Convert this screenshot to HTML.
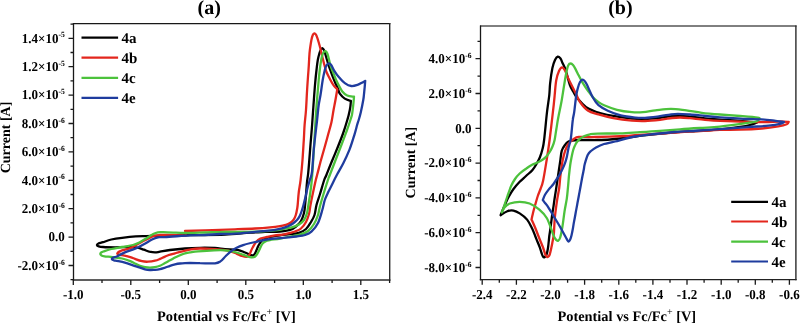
<!DOCTYPE html><html><head><meta charset="utf-8"><style>html,body{margin:0;padding:0;background:#fff;}svg{display:block;will-change:transform;}text{font-family:"Liberation Serif",serif;font-weight:bold;fill:#000;text-rendering:geometricPrecision;}</style></head><body>
<svg width="800" height="324" viewBox="0 0 800 324">
<rect width="800" height="324" fill="#fff"/>
<path d="M72.85 23.60H390.40" stroke="#181818" stroke-width="1.3" fill="none"/>
<path d="M72.85 279.95H390.40" stroke="#2a2a2a" stroke-width="1.35" fill="none"/>
<path d="M73.50 23.00V280.60" stroke="#181818" stroke-width="1.3" fill="none"/>
<path d="M389.70 23.00V280.60" stroke="#2a2a2a" stroke-width="1.4" fill="none"/>
<text transform="translate(73.3 299.2) scale(1 1.050)" font-size="13.0" text-anchor="middle" >-1.0</text>
<text transform="translate(130.8 299.2) scale(1 1.050)" font-size="13.0" text-anchor="middle" >-0.5</text>
<text transform="translate(188.3 299.2) scale(1 1.050)" font-size="13.0" text-anchor="middle" >0.0</text>
<text transform="translate(245.8 299.2) scale(1 1.050)" font-size="13.0" text-anchor="middle" >0.5</text>
<text transform="translate(303.3 299.2) scale(1 1.050)" font-size="13.0" text-anchor="middle" >1.0</text>
<text transform="translate(360.8 299.2) scale(1 1.050)" font-size="13.0" text-anchor="middle" >1.5</text>
<text transform="translate(64.8 42.6) scale(1 1.040)" font-size="13" text-anchor="end">1.4×10<tspan font-size="7.6" dy="-5.0">-5</tspan></text>
<text transform="translate(64.8 71.0) scale(1 1.040)" font-size="13" text-anchor="end">1.2×10<tspan font-size="7.6" dy="-5.0">-5</tspan></text>
<text transform="translate(64.8 99.4) scale(1 1.040)" font-size="13" text-anchor="end">1.0×10<tspan font-size="7.6" dy="-5.0">-5</tspan></text>
<text transform="translate(64.8 127.8) scale(1 1.040)" font-size="13" text-anchor="end">8.0×10<tspan font-size="7.6" dy="-5.0">-6</tspan></text>
<text transform="translate(64.8 156.2) scale(1 1.040)" font-size="13" text-anchor="end">6.0×10<tspan font-size="7.6" dy="-5.0">-6</tspan></text>
<text transform="translate(64.8 184.6) scale(1 1.040)" font-size="13" text-anchor="end">4.0×10<tspan font-size="7.6" dy="-5.0">-6</tspan></text>
<text transform="translate(64.8 213.0) scale(1 1.040)" font-size="13" text-anchor="end">2.0×10<tspan font-size="7.6" dy="-5.0">-6</tspan></text>
<text transform="translate(64.8 241.4) scale(1 1.040)" font-size="13.0" text-anchor="end" >0.0</text>
<text transform="translate(64.8 269.8) scale(1 1.040)" font-size="13" text-anchor="end">-2.0×10<tspan font-size="7.6" dy="-5.0">-6</tspan></text>
<path d="M480.00 26.00H796.60" stroke="#000" stroke-width="1.0" fill="none"/>
<path d="M479.80 279.70H796.60" stroke="#222" stroke-width="1.3" fill="none"/>
<path d="M480.50 25.50V280.35" stroke="#181818" stroke-width="1.3" fill="none"/>
<path d="M795.90 25.50V280.35" stroke="#2a2a2a" stroke-width="1.4" fill="none"/>
<text transform="translate(482.2 299.2) scale(1 1.050)" font-size="13.0" text-anchor="middle" >-2.4</text>
<text transform="translate(516.4 299.2) scale(1 1.050)" font-size="13.0" text-anchor="middle" >-2.2</text>
<text transform="translate(550.5 299.2) scale(1 1.050)" font-size="13.0" text-anchor="middle" >-2.0</text>
<text transform="translate(584.6 299.2) scale(1 1.050)" font-size="13.0" text-anchor="middle" >-1.8</text>
<text transform="translate(618.8 299.2) scale(1 1.050)" font-size="13.0" text-anchor="middle" >-1.6</text>
<text transform="translate(652.9 299.2) scale(1 1.050)" font-size="13.0" text-anchor="middle" >-1.4</text>
<text transform="translate(687.0 299.2) scale(1 1.050)" font-size="13.0" text-anchor="middle" >-1.2</text>
<text transform="translate(721.2 299.2) scale(1 1.050)" font-size="13.0" text-anchor="middle" >-1.0</text>
<text transform="translate(755.3 299.2) scale(1 1.050)" font-size="13.0" text-anchor="middle" >-0.8</text>
<text transform="translate(789.4 299.2) scale(1 1.050)" font-size="13.0" text-anchor="middle" >-0.6</text>
<text transform="translate(471.6 271.8) scale(1 1.040)" font-size="13" text-anchor="end">-8.0×10<tspan font-size="7.6" dy="-5.0">-6</tspan></text>
<text transform="translate(471.6 237.0) scale(1 1.040)" font-size="13" text-anchor="end">-6.0×10<tspan font-size="7.6" dy="-5.0">-6</tspan></text>
<text transform="translate(471.6 202.2) scale(1 1.040)" font-size="13" text-anchor="end">-4.0×10<tspan font-size="7.6" dy="-5.0">-6</tspan></text>
<text transform="translate(471.6 167.4) scale(1 1.040)" font-size="13" text-anchor="end">-2.0×10<tspan font-size="7.6" dy="-5.0">-6</tspan></text>
<text transform="translate(471.6 132.6) scale(1 1.040)" font-size="13.0" text-anchor="end" >0.0</text>
<text transform="translate(471.6 97.8) scale(1 1.040)" font-size="13" text-anchor="end">2.0×10<tspan font-size="7.6" dy="-5.0">-6</tspan></text>
<text transform="translate(471.6 63.0) scale(1 1.040)" font-size="13" text-anchor="end">4.0×10<tspan font-size="7.6" dy="-5.0">-6</tspan></text>
<path d="M73.3 279.9V284.9 M102.0 279.9V282.9 M130.8 279.9V284.9 M159.6 279.9V282.9 M188.3 279.9V284.9 M217.1 279.9V282.9 M245.8 279.9V284.9 M274.6 279.9V282.9 M303.3 279.9V284.9 M332.1 279.9V282.9 M360.8 279.9V284.9 M389.6 279.9V282.9 M73.5 279.7H70.5 M73.5 265.5H68.5 M73.5 251.3H70.5 M73.5 237.1H68.5 M73.5 222.9H70.5 M73.5 208.7H68.5 M73.5 194.5H70.5 M73.5 180.3H68.5 M73.5 166.1H70.5 M73.5 151.9H68.5 M73.5 137.7H70.5 M73.5 123.5H68.5 M73.5 109.3H70.5 M73.5 95.1H68.5 M73.5 80.9H70.5 M73.5 66.7H68.5 M73.5 52.5H70.5 M73.5 38.3H68.5 M73.5 24.1H70.5 M482.2 279.7V284.7 M499.3 279.7V282.7 M516.4 279.7V284.7 M533.4 279.7V282.7 M550.5 279.7V284.7 M567.6 279.7V282.7 M584.6 279.7V284.7 M601.7 279.7V282.7 M618.8 279.7V284.7 M635.8 279.7V282.7 M652.9 279.7V284.7 M670.0 279.7V282.7 M687.0 279.7V284.7 M704.1 279.7V282.7 M721.2 279.7V284.7 M738.2 279.7V282.7 M755.3 279.7V284.7 M772.3 279.7V282.7 M789.4 279.7V284.7 M480.5 267.5H475.5 M480.5 250.1H477.5 M480.5 232.7H475.5 M480.5 215.3H477.5 M480.5 197.9H475.5 M480.5 180.5H477.5 M480.5 163.1H475.5 M480.5 145.7H477.5 M480.5 128.3H475.5 M480.5 110.9H477.5 M480.5 93.5H475.5 M480.5 76.1H477.5 M480.5 58.7H475.5 M480.5 41.3H477.5" stroke="#1a1a1a" stroke-width="1.3" fill="none"/>
<text x="157" y="320.8" font-size="14.4" text-anchor="start">Potential vs Fc/Fc<tspan font-size="10" font-weight="normal" dy="-6.2">+</tspan><tspan dy="6.2"> [V]</tspan></text>
<text x="557.4" y="320.9" font-size="14.4" text-anchor="start">Potential vs Fc/Fc<tspan font-size="10" font-weight="normal" dy="-6.2">+</tspan><tspan dy="6.2"> [V]</tspan></text>
<text transform="translate(9.8,173.3) rotate(-90)" font-size="14" text-anchor="start">Current [A]</text>
<text transform="translate(415.4,198.4) rotate(-90)" font-size="14" text-anchor="start">Current [A]</text>
<text x="209.2" y="13.9" font-size="20.0" text-anchor="middle" >(a)</text>
<text x="620.4" y="13.9" font-size="20.0" text-anchor="middle" >(b)</text>
<path d="M350.9 101.0 C350.8 102.0 350.6 104.9 350.3 107.2 C350.0 109.5 349.3 112.5 348.8 114.6 C348.3 116.7 348.2 116.9 347.3 120.0 C346.4 123.1 344.7 128.7 343.2 133.0 C341.7 137.3 340.1 141.3 338.2 146.0 C336.3 150.7 334.0 156.2 332.0 161.0 C330.0 165.8 327.7 171.8 326.4 175.0 C325.1 178.2 325.3 176.8 324.2 180.0 C323.1 183.2 321.3 189.8 320.0 194.0 C318.7 198.2 317.4 201.5 316.5 205.0 C315.6 208.5 315.4 212.2 314.5 215.0 C313.6 217.8 312.4 219.7 311.0 222.0 C309.6 224.3 308.0 227.2 306.0 229.0 C304.0 230.8 301.7 231.9 299.0 232.8 C296.3 233.7 293.2 233.8 290.0 234.2 C286.8 234.6 283.6 234.8 280.0 235.3 C276.4 235.8 271.2 236.4 268.2 237.3 C265.2 238.2 263.6 239.1 262.0 240.5 C260.4 241.9 259.6 243.5 258.5 245.5 C257.4 247.5 256.4 250.8 255.5 252.5 C254.6 254.2 254.1 255.0 253.2 255.4 C252.3 255.8 251.4 255.2 250.0 254.7 C248.6 254.2 247.1 253.3 245.0 252.5 C242.9 251.7 240.8 250.5 237.5 249.9 C234.2 249.3 228.8 249.5 225.0 249.2 C221.2 248.9 219.2 248.2 215.0 248.0 C210.8 247.8 205.0 247.7 200.0 247.8 C195.0 247.9 190.0 248.1 185.0 248.5 C180.0 248.9 174.2 249.5 170.0 250.0 C165.8 250.5 162.5 251.3 160.0 251.7 C157.5 252.1 156.8 252.4 155.0 252.4 C153.2 252.4 151.2 252.1 149.3 251.7 C147.4 251.2 145.8 250.4 143.8 249.7 C141.8 249.0 139.6 248.1 137.1 247.7 C134.6 247.2 132.5 247.1 128.9 247.0 C125.3 246.9 119.7 247.3 115.4 247.3 C111.1 247.3 105.9 247.2 103.1 247.0 C100.3 246.8 99.7 246.6 98.7 246.3 C97.7 246.0 96.9 245.5 96.9 245.0 C96.9 244.5 97.5 244.0 98.5 243.5 C99.5 243.0 101.0 242.9 103.1 242.2 C105.2 241.5 108.1 240.2 111.3 239.5 C114.5 238.8 118.0 238.3 122.1 237.8 C126.2 237.3 131.6 236.7 135.7 236.4 C139.8 236.1 142.5 236.2 146.6 236.1 C150.7 236.0 152.8 235.8 160.0 235.6 C167.2 235.4 179.2 235.4 190.0 235.2 C200.8 235.0 215.0 235.0 225.0 234.6 C235.0 234.2 243.3 233.0 250.0 232.6 C256.7 232.2 260.0 232.1 265.0 231.9 C270.0 231.7 275.8 231.8 280.0 231.5 C284.2 231.2 287.3 230.7 290.0 229.9 C292.7 229.1 294.2 228.0 296.0 226.5 C297.8 225.0 299.7 223.2 301.0 221.0 C302.3 218.8 303.3 215.7 304.0 213.0 C304.7 210.3 304.8 208.0 305.1 205.0 C305.4 202.0 305.7 198.8 306.0 195.0 C306.3 191.2 306.6 185.8 307.0 182.0 C307.4 178.2 307.8 177.8 308.3 172.0 C308.9 166.2 309.7 154.8 310.3 147.0 C310.9 139.2 311.6 132.0 312.1 125.0 C312.6 118.0 313.0 111.7 313.5 105.0 C314.0 98.3 314.5 90.8 315.0 85.0 C315.5 79.2 316.0 74.2 316.5 70.0 C317.0 65.8 317.3 62.8 317.8 60.0 C318.3 57.2 319.0 54.8 319.5 53.0 C320.0 51.2 320.5 50.3 321.0 49.5 C321.5 48.7 322.0 48.0 322.5 48.2 C323.0 48.4 323.6 49.2 324.2 50.5 C324.8 51.8 325.2 53.6 325.9 56.0 C326.6 58.4 327.6 62.0 328.5 64.9 C329.4 67.8 330.6 70.7 331.6 73.5 C332.6 76.3 333.7 79.0 334.7 81.5 C335.7 84.0 336.9 86.3 337.8 88.3 C338.7 90.3 338.6 91.9 339.8 93.6 C341.0 95.3 343.0 97.4 344.8 98.6 C346.6 99.8 349.9 100.6 350.9 101.0" fill="none" stroke="#000000" stroke-width="2.3" stroke-linejoin="round" stroke-linecap="round"/>
<path d="M185.0 231.0 C188.3 230.9 196.7 230.7 205.0 230.4 C213.3 230.1 226.7 229.6 235.0 229.3 C243.3 229.0 249.2 228.8 255.0 228.5 C260.8 228.2 265.8 227.8 270.0 227.4 C274.2 227.0 277.3 226.6 280.0 226.2 C282.7 225.8 284.3 225.3 286.0 224.8 C287.7 224.3 288.7 223.8 290.0 223.0 C291.3 222.2 292.6 221.0 293.6 219.7 C294.6 218.4 295.2 216.9 295.8 215.0 C296.4 213.1 296.9 210.3 297.3 208.0 C297.7 205.7 297.8 203.7 298.0 201.0 C298.2 198.3 298.4 195.5 298.8 192.0 C299.2 188.5 300.0 185.3 300.6 180.0 C301.2 174.7 302.0 166.7 302.5 160.0 C303.0 153.3 303.4 145.8 303.8 140.0 C304.2 134.2 304.2 130.0 304.6 125.0 C305.0 120.0 305.6 115.8 306.0 110.0 C306.4 104.2 306.7 96.7 307.1 90.0 C307.5 83.3 308.1 75.3 308.5 70.0 C308.9 64.7 309.0 61.4 309.2 58.0 C309.4 54.6 309.5 52.7 309.9 49.7 C310.3 46.7 310.9 42.4 311.4 39.9 C311.9 37.4 312.3 36.0 312.8 34.9 C313.3 33.8 313.8 33.5 314.3 33.4 C314.8 33.3 315.3 33.6 315.8 34.4 C316.3 35.1 316.8 36.5 317.3 37.9 C317.8 39.3 318.3 41.1 318.8 42.8 C319.3 44.4 319.7 45.9 320.2 47.8 C320.7 49.7 321.1 52.0 321.6 54.0 C322.1 56.0 322.5 57.7 323.0 59.5 C323.5 61.3 323.8 62.9 324.4 65.0 C325.0 67.1 325.6 69.8 326.6 72.3 C327.6 74.8 329.1 77.4 330.3 79.7 C331.5 82.0 332.8 84.3 334.0 85.9 C335.2 87.5 336.8 88.7 337.3 89.3 C337.0 91.0 336.1 96.4 335.5 99.8 C334.9 103.2 334.3 106.0 333.6 109.7 C332.9 113.4 332.4 117.8 331.5 122.0 C330.6 126.2 329.1 130.8 328.0 135.0 C326.9 139.2 325.9 142.8 324.7 147.0 C323.5 151.2 322.3 155.3 321.0 160.0 C319.7 164.7 318.0 171.7 317.1 175.0 C316.2 178.3 316.6 176.7 315.8 180.0 C315.0 183.3 313.4 190.8 312.5 195.0 C311.6 199.2 311.1 201.8 310.5 205.0 C309.9 208.2 309.8 211.2 309.0 214.0 C308.2 216.8 307.3 219.6 306.0 222.0 C304.7 224.4 302.8 226.9 301.0 228.5 C299.2 230.1 296.8 230.8 295.0 231.5 C293.2 232.2 292.0 232.4 290.0 232.9 C288.0 233.4 285.5 234.2 283.0 234.6 C280.5 235.0 277.7 235.0 275.0 235.4 C272.3 235.8 269.3 236.5 266.9 237.0 C264.5 237.5 262.2 237.8 260.4 238.6 C258.6 239.4 257.4 240.4 256.1 241.9 C254.8 243.4 253.7 245.7 252.8 247.3 C251.9 248.9 251.3 250.3 250.8 251.5 C250.3 252.7 250.1 253.5 249.6 254.3 C249.1 255.1 248.5 255.8 248.0 256.2 C247.5 256.6 247.4 256.8 246.4 256.8 C245.4 256.8 243.7 256.5 242.0 256.0 C240.3 255.5 238.3 254.3 236.5 253.6 C234.7 252.9 233.1 252.2 231.2 251.6 C229.3 251.0 227.7 250.6 225.0 250.2 C222.3 249.8 219.2 249.5 215.0 249.2 C210.8 248.9 204.2 248.4 200.0 248.5 C195.8 248.6 192.5 249.2 190.0 249.6 C187.5 250.0 186.7 250.3 185.0 250.7 C183.3 251.1 181.7 251.5 180.0 251.9 C178.3 252.3 176.7 252.8 175.0 253.3 C173.3 253.8 171.7 254.1 170.0 254.7 C168.3 255.2 166.7 255.9 165.0 256.6 C163.3 257.3 161.7 258.2 160.0 258.9 C158.3 259.6 157.0 260.2 155.0 260.7 C153.0 261.2 150.2 261.6 148.0 261.7 C145.8 261.8 144.2 261.7 142.0 261.2 C139.8 260.7 136.9 259.6 135.0 258.9 C133.1 258.2 132.5 257.8 130.3 257.2 C128.2 256.6 124.0 255.5 122.1 255.1 C120.2 254.7 119.8 254.8 119.0 254.6 C118.2 254.3 117.4 254.0 117.3 253.6 C117.2 253.2 117.8 252.6 118.3 252.2 C118.8 251.8 119.9 251.4 120.5 251.1 C121.1 250.8 120.5 250.9 122.1 250.4 C123.7 249.9 127.4 249.3 130.3 248.1 C133.2 246.8 137.1 244.3 139.8 242.9 C142.5 241.5 144.3 240.6 146.6 239.5 C148.8 238.4 151.1 236.8 153.3 236.1 C155.5 235.3 157.6 235.2 160.0 235.0 C162.4 234.8 165.0 234.9 167.5 234.9 C170.0 234.9 172.5 235.1 175.0 235.2 C177.5 235.3 180.7 235.4 182.5 235.5 C184.3 235.6 185.4 235.5 186.0 235.5" fill="none" stroke="#e3261d" stroke-width="2.3" stroke-linejoin="round" stroke-linecap="round"/>
<path d="M354.0 96.7 C353.9 97.8 353.7 100.5 353.4 103.5 C353.1 106.5 352.5 111.8 352.0 114.6 C351.5 117.3 351.2 117.4 350.4 120.0 C349.6 122.6 348.6 125.7 347.0 130.0 C345.4 134.3 343.9 138.5 341.0 146.0 C338.1 153.5 332.0 169.3 329.8 175.0 C327.6 180.7 329.5 175.0 327.9 180.0 C326.3 185.0 321.9 199.2 320.3 205.0 C318.7 210.8 319.1 211.8 318.0 215.0 C316.9 218.2 315.7 221.3 314.0 224.0 C312.3 226.7 310.3 229.2 308.0 231.0 C305.7 232.8 303.0 233.6 300.0 234.5 C297.0 235.4 293.3 235.8 290.0 236.5 C286.7 237.2 283.3 237.9 280.0 238.5 C276.7 239.1 272.2 239.6 270.0 240.0 C267.8 240.4 267.9 240.2 266.7 240.8 C265.4 241.4 263.9 241.7 262.5 243.6 C261.1 245.5 259.6 249.8 258.3 252.0 C257.0 254.2 256.3 255.9 254.9 256.8 C253.5 257.7 252.0 257.6 250.0 257.2 C248.0 256.8 245.6 255.6 243.0 254.7 C240.4 253.8 237.7 252.7 234.7 252.0 C231.7 251.3 228.4 250.6 225.0 250.3 C221.6 250.0 218.5 250.1 214.0 250.3 C209.5 250.5 202.0 251.0 198.0 251.3 C194.0 251.6 192.2 252.0 190.0 252.3 C187.8 252.6 186.7 252.8 185.0 253.3 C183.3 253.8 181.7 254.5 180.0 255.2 C178.3 255.9 176.7 256.6 175.0 257.5 C173.3 258.4 171.7 259.4 170.0 260.3 C168.3 261.2 166.7 262.2 165.0 263.1 C163.3 264.0 161.7 265.1 160.0 265.8 C158.3 266.5 156.7 266.9 155.0 267.2 C153.3 267.5 151.7 267.7 150.0 267.7 C148.3 267.7 146.7 267.5 145.0 267.2 C143.3 266.9 141.7 266.4 140.0 265.8 C138.3 265.2 136.6 264.3 135.0 263.5 C133.4 262.7 132.5 262.0 130.3 261.2 C128.2 260.4 125.0 259.2 122.1 258.5 C119.1 257.8 115.5 257.6 112.6 257.2 C109.7 256.8 106.3 256.6 104.5 256.3 C102.7 256.0 102.2 255.8 101.5 255.4 C100.8 255.0 100.3 254.3 100.3 253.8 C100.3 253.3 100.8 252.8 101.5 252.3 C102.2 251.9 102.9 251.7 104.5 251.1 C106.1 250.5 108.4 249.7 111.3 249.0 C114.2 248.3 118.5 247.7 122.1 247.0 C125.7 246.3 130.1 245.8 133.0 245.0 C135.9 244.2 137.5 243.3 139.8 242.2 C142.1 241.1 144.6 239.4 146.6 238.2 C148.6 237.0 150.1 235.8 152.0 234.8 C153.9 233.8 155.2 232.7 157.8 232.3 C160.4 231.9 162.1 232.2 167.5 232.3 C172.9 232.4 183.8 233.0 190.0 233.0 C196.2 233.0 199.2 232.7 205.0 232.5 C210.8 232.3 219.2 231.9 225.0 231.8 C230.8 231.7 233.8 232.1 240.0 232.0 C246.2 231.9 256.7 231.7 262.5 231.4 C268.3 231.1 271.8 230.8 275.0 230.4 C278.2 230.1 279.8 229.7 282.0 229.3 C284.2 228.9 286.0 228.6 288.0 228.2 C290.0 227.8 292.2 227.2 294.0 226.6 C295.8 226.0 297.3 225.6 299.0 224.5 C300.7 223.4 302.7 221.9 304.0 220.0 C305.3 218.1 306.3 215.5 307.0 213.0 C307.7 210.5 307.9 208.0 308.4 205.0 C308.9 202.0 309.4 199.2 310.0 195.0 C310.6 190.8 311.3 185.8 311.8 180.0 C312.3 174.2 312.6 169.2 313.2 160.0 C313.8 150.8 314.7 135.0 315.3 125.0 C315.9 115.0 316.4 107.5 317.0 100.0 C317.6 92.5 318.2 85.3 318.7 80.0 C319.2 74.7 319.5 71.8 320.0 68.0 C320.5 64.2 321.2 59.6 321.8 57.0 C322.4 54.4 322.9 53.5 323.5 52.5 C324.1 51.5 324.9 51.0 325.5 51.2 C326.1 51.4 326.7 52.0 327.3 53.5 C327.9 55.0 328.6 58.1 329.1 60.0 C329.6 61.9 329.5 62.4 330.3 64.9 C331.1 67.4 332.8 71.7 334.0 74.8 C335.2 77.9 336.4 80.6 337.8 83.4 C339.2 86.2 340.7 89.5 342.3 91.5 C343.9 93.5 345.2 94.6 347.2 95.5 C349.1 96.4 352.9 96.5 354.0 96.7" fill="none" stroke="#4cc23c" stroke-width="2.3" stroke-linejoin="round" stroke-linecap="round"/>
<path d="M365.2 80.9 C365.1 81.9 364.9 84.8 364.7 87.1 C364.5 89.4 364.1 92.9 363.9 95.0 C363.7 97.1 363.8 96.9 363.3 99.8 C362.8 102.7 361.6 108.8 360.8 112.2 C360.0 115.6 359.3 117.9 358.7 120.0 C358.1 122.1 357.8 122.5 357.1 125.0 C356.4 127.5 355.7 130.7 354.4 134.8 C353.1 138.9 351.4 144.9 349.5 149.6 C347.6 154.3 345.4 159.1 343.3 163.2 C341.2 167.3 339.1 170.8 337.2 174.3 C335.3 177.8 333.6 181.3 332.2 184.2 C330.8 187.1 329.7 189.0 328.5 191.6 C327.3 194.2 325.8 196.9 324.8 200.0 C323.8 203.1 323.4 206.2 322.3 210.0 C321.2 213.8 319.8 219.4 318.0 223.0 C316.2 226.6 313.6 229.7 311.4 231.7 C309.2 233.7 307.5 234.2 305.0 235.0 C302.5 235.8 299.9 236.0 296.3 236.5 C292.7 237.0 288.1 237.3 283.4 237.8 C278.7 238.3 272.4 238.7 268.2 239.3 C264.0 239.9 261.1 240.8 258.2 241.4 C255.3 242.0 253.2 242.4 250.7 243.0 C248.2 243.6 245.4 244.3 243.1 245.1 C240.8 245.9 238.6 246.8 236.6 247.8 C234.6 248.8 233.0 249.7 231.2 251.1 C229.4 252.5 227.6 254.3 225.8 256.0 C224.0 257.7 222.2 260.2 220.4 261.4 C218.6 262.6 218.4 263.0 215.0 263.3 C211.6 263.6 204.2 263.2 200.0 263.2 C195.8 263.1 192.5 263.0 190.0 263.0 C187.5 263.0 186.7 263.0 185.0 263.1 C183.3 263.2 181.7 263.3 180.0 263.5 C178.3 263.7 176.7 264.0 175.0 264.4 C173.3 264.8 171.7 265.2 170.0 265.8 C168.3 266.4 166.7 267.1 165.0 267.7 C163.3 268.2 161.7 268.8 160.0 269.1 C158.3 269.5 156.7 269.7 155.0 269.8 C153.3 269.9 151.7 270.1 150.0 270.0 C148.3 269.9 146.7 269.7 145.0 269.3 C143.3 268.9 141.8 268.3 140.0 267.7 C138.2 267.1 136.8 266.6 134.3 265.8 C131.8 265.0 128.1 263.5 124.9 262.6 C121.8 261.7 117.5 261.1 115.4 260.6 C113.4 260.1 113.2 260.2 112.6 259.8 C112.0 259.4 111.8 258.8 112.0 258.4 C112.2 258.0 113.0 257.7 113.8 257.4 C114.6 257.1 114.8 257.3 116.7 256.5 C118.6 255.7 121.7 253.8 124.9 252.4 C128.1 251.1 132.5 249.8 135.7 248.4 C138.8 247.1 141.1 245.8 143.8 244.3 C146.5 242.8 149.6 240.7 152.0 239.5 C154.4 238.3 155.8 237.7 158.0 237.3 C160.2 236.9 159.7 237.4 165.0 237.1 C170.3 236.8 183.3 235.7 190.0 235.3 C196.7 235.0 200.0 235.2 205.0 235.0 C210.0 234.8 215.0 234.2 220.0 234.0 C225.0 233.8 230.0 233.9 235.0 233.6 C240.0 233.3 245.4 232.8 250.0 232.4 C254.6 232.0 258.3 231.5 262.5 231.1 C266.7 230.7 271.8 230.3 275.0 229.8 C278.2 229.3 279.8 228.9 282.0 228.3 C284.2 227.7 286.2 227.0 288.0 226.2 C289.8 225.4 291.5 224.5 293.0 223.5 C294.5 222.5 295.8 221.3 297.0 220.0 C298.2 218.7 299.2 217.2 300.0 215.5 C300.8 213.8 301.4 211.8 302.0 210.0 C302.6 208.2 302.9 207.2 303.5 205.0 C304.1 202.8 304.8 199.8 305.5 197.0 C306.2 194.2 306.8 190.8 307.5 188.0 C308.2 185.2 309.1 182.7 309.8 180.0 C310.6 177.3 311.3 177.5 312.0 172.0 C312.7 166.5 313.1 155.7 314.0 147.0 C314.9 138.3 316.3 127.0 317.1 120.0 C317.9 113.0 318.1 109.2 318.7 105.0 C319.3 100.8 319.8 99.2 320.5 95.0 C321.2 90.8 322.0 84.2 322.7 80.0 C323.4 75.8 324.2 72.5 324.8 70.0 C325.4 67.5 325.8 66.4 326.5 65.3 C327.2 64.2 328.1 63.5 328.9 63.4 C329.6 63.3 330.1 63.6 331.0 64.8 C331.9 66.0 332.7 68.2 334.0 70.3 C335.3 72.4 337.1 75.1 339.0 77.3 C340.9 79.5 343.1 82.0 345.2 83.4 C347.2 84.9 349.2 85.8 351.3 86.0 C353.4 86.2 355.6 85.5 357.5 84.9 C359.4 84.3 361.1 83.1 362.4 82.4 C363.7 81.7 364.7 81.2 365.2 80.9" fill="none" stroke="#1f3c9e" stroke-width="2.3" stroke-linejoin="round" stroke-linecap="round"/>
<path d="M757.0 122.5 C755.8 122.9 752.8 124.3 750.0 125.0 C747.2 125.7 745.0 126.1 740.0 126.8 C735.0 127.5 726.7 128.6 720.0 129.3 C713.3 130.0 707.5 130.3 700.0 130.8 C692.5 131.3 682.5 131.7 675.0 132.3 C667.5 132.9 661.7 133.5 655.0 134.2 C648.3 134.9 640.8 135.8 635.0 136.5 C629.2 137.2 624.2 138.0 620.0 138.5 C615.8 139.0 613.8 139.2 610.0 139.5 C606.2 139.8 602.4 139.9 597.5 140.0 C592.6 140.1 584.8 139.9 580.5 140.0 C576.2 140.1 574.0 140.2 572.0 140.5 C570.0 140.8 569.7 140.8 568.6 141.5 C567.5 142.2 566.3 143.1 565.2 144.6 C564.1 146.1 562.6 148.0 561.8 150.6 C561.0 153.2 560.8 157.1 560.4 160.0 C560.0 162.9 559.6 165.4 559.2 168.0 C558.8 170.6 558.5 172.9 558.1 175.5 C557.7 178.1 557.3 180.9 556.9 183.5 C556.5 186.1 556.2 188.4 555.8 190.9 C555.4 193.4 555.0 195.9 554.6 198.5 C554.2 201.1 553.9 203.8 553.5 206.4 C553.1 209.0 552.7 211.3 552.3 214.0 C551.9 216.7 551.6 219.7 551.2 222.4 C550.9 225.1 550.5 227.7 550.2 230.0 C549.9 232.3 549.7 233.0 549.3 236.0 C548.9 239.0 548.5 244.9 548.0 248.0 C547.5 251.1 547.1 252.8 546.6 254.3 C546.1 255.8 545.4 256.6 544.8 257.0 C544.2 257.4 543.6 257.4 543.0 256.6 C542.4 255.9 541.9 253.9 541.4 252.5 C540.9 251.1 540.6 249.8 540.0 248.0 C539.4 246.2 538.4 244.0 537.6 242.0 C536.8 240.0 536.1 238.3 535.2 236.0 C534.3 233.7 533.4 230.9 532.0 228.2 C530.6 225.5 529.1 222.1 527.1 219.6 C525.1 217.1 522.0 214.9 519.7 213.4 C517.4 211.9 515.6 211.0 513.5 210.6 C511.4 210.2 509.4 210.4 507.3 211.2 C505.2 212.0 501.7 214.5 500.6 215.2 C501.2 213.8 502.7 210.0 504.0 207.0 C505.3 204.0 507.0 200.0 508.6 197.0 C510.2 194.0 511.6 191.5 513.5 189.0 C515.4 186.5 517.6 184.0 519.7 181.8 C521.8 179.6 523.9 178.0 526.0 176.0 C528.1 174.0 530.8 172.0 532.5 170.0 C534.2 168.0 535.3 166.1 536.5 164.0 C537.7 161.9 538.8 160.0 539.8 157.5 C540.8 155.0 541.8 151.9 542.5 149.0 C543.2 146.1 543.4 146.1 544.1 140.0 C544.9 133.9 546.1 119.7 547.0 112.2 C547.9 104.7 548.8 99.8 549.3 95.0 C549.8 90.2 549.6 88.1 550.1 83.6 C550.6 79.1 551.6 72.0 552.4 68.1 C553.2 64.2 554.1 61.9 555.0 60.0 C555.9 58.1 556.9 56.9 557.8 56.6 C558.7 56.4 559.7 57.5 560.5 58.5 C561.3 59.5 561.6 60.8 562.4 62.7 C563.2 64.6 564.2 66.0 565.5 69.7 C566.8 73.4 568.6 81.3 569.9 85.0 C571.2 88.7 572.2 89.7 573.5 92.0 C574.8 94.3 575.5 96.1 577.6 98.6 C579.7 101.1 583.3 105.0 586.1 107.1 C588.9 109.2 592.3 110.3 594.6 111.3 C596.9 112.3 596.9 112.2 600.0 113.0 C603.1 113.8 608.0 115.0 613.3 115.9 C618.6 116.8 626.6 118.1 631.9 118.6 C637.2 119.1 640.3 119.1 645.0 119.0 C649.7 118.9 655.5 118.3 660.0 117.8 C664.5 117.3 668.7 116.5 672.0 116.2 C675.3 115.9 677.0 115.7 680.0 115.8 C683.0 115.9 685.8 116.2 690.0 116.6 C694.2 117.0 700.0 117.8 705.0 118.3 C710.0 118.8 714.2 119.1 720.0 119.6 C725.8 120.0 733.8 120.5 740.0 121.0 C746.2 121.5 754.2 122.2 757.0 122.5" fill="none" stroke="#000000" stroke-width="2.3" stroke-linejoin="round" stroke-linecap="round"/>
<path d="M788.7 121.9 C788.4 122.3 788.4 123.5 786.7 124.3 C785.0 125.0 782.5 125.7 778.3 126.4 C774.1 127.1 768.1 128.0 761.7 128.5 C755.3 129.0 747.0 129.4 740.0 129.6 C733.0 129.8 726.7 129.7 720.0 129.9 C713.3 130.1 707.5 130.6 700.0 131.0 C692.5 131.4 682.5 132.0 675.0 132.5 C667.5 133.0 661.7 133.6 655.0 134.0 C648.3 134.4 640.0 134.9 635.0 135.2 C630.0 135.5 631.7 135.7 625.0 136.0 C618.3 136.3 602.7 136.8 595.0 137.0 C587.3 137.2 582.3 136.7 578.8 137.0 C575.2 137.3 575.4 137.9 573.7 139.0 C572.0 140.1 570.0 141.9 568.6 143.8 C567.2 145.7 566.2 147.8 565.2 150.6 C564.2 153.4 563.4 156.7 562.6 160.8 C561.8 164.9 561.1 170.5 560.5 175.0 C559.9 179.5 559.8 183.7 559.2 188.0 C558.6 192.3 557.7 195.8 557.0 200.8 C556.3 205.8 555.3 212.8 554.8 218.0 C554.3 223.2 554.2 228.7 554.0 232.0 C553.8 235.3 553.6 235.8 553.3 237.6 C553.0 239.4 552.6 241.3 552.3 243.0 C552.0 244.7 551.7 246.1 551.3 248.0 C550.9 249.9 550.2 253.1 549.7 254.5 C549.2 255.9 548.8 256.2 548.3 256.6 C547.8 257.0 547.5 257.2 547.0 256.9 C546.5 256.5 545.9 256.0 545.3 254.5 C544.7 253.0 544.0 250.1 543.2 248.0 C542.5 245.9 541.6 244.0 540.8 242.0 C540.0 240.0 539.1 237.8 538.4 236.0 C537.7 234.2 537.2 232.8 536.5 231.0 C535.8 229.2 534.8 226.9 534.0 225.0 C533.2 223.1 531.9 220.4 531.5 219.5 C531.8 218.4 532.5 215.0 533.0 213.0 C533.5 211.0 533.7 210.1 534.5 207.3 C535.3 204.5 536.8 199.1 537.8 196.0 C538.8 192.9 539.6 191.6 540.5 189.0 C541.4 186.4 542.0 185.8 543.1 180.7 C544.2 175.6 545.8 165.3 546.9 158.5 C548.0 151.7 548.6 147.7 549.6 140.0 C550.6 132.3 552.0 119.7 552.9 112.2 C553.8 104.7 554.2 100.3 554.7 95.0 C555.2 89.7 555.5 84.5 556.2 80.5 C556.9 76.5 558.0 73.2 559.0 71.0 C560.0 68.8 561.1 67.5 562.1 67.4 C563.1 67.3 564.0 68.8 565.0 70.5 C566.0 72.2 566.6 74.7 567.8 77.4 C569.0 80.1 571.0 83.9 572.4 86.7 C573.8 89.5 575.0 91.9 576.3 94.4 C577.6 97.0 578.1 99.3 580.0 102.0 C581.9 104.7 584.7 108.4 587.8 110.5 C590.9 112.6 594.2 113.1 598.5 114.4 C602.8 115.7 607.7 117.1 613.3 118.1 C618.9 119.1 626.6 120.1 631.9 120.6 C637.2 121.1 640.3 121.1 645.0 121.0 C649.7 120.9 655.5 120.3 660.0 119.8 C664.5 119.3 668.7 118.4 672.0 118.0 C675.3 117.6 677.0 117.5 680.0 117.5 C683.0 117.5 685.8 117.8 690.0 118.2 C694.2 118.6 700.0 119.4 705.0 119.8 C710.0 120.2 710.5 120.4 720.0 120.8 C729.5 121.2 752.0 122.1 761.7 122.2 C771.4 122.3 773.8 121.5 778.3 121.5 C782.8 121.5 787.0 121.8 788.7 121.9" fill="none" stroke="#e3261d" stroke-width="2.3" stroke-linejoin="round" stroke-linecap="round"/>
<path d="M759.6 118.8 C759.0 119.2 758.1 120.8 756.1 121.5 C754.1 122.2 753.8 122.1 747.8 122.9 C741.8 123.8 728.0 125.8 720.0 126.6 C712.0 127.4 706.7 127.5 700.0 128.0 C693.3 128.4 686.7 128.8 680.0 129.3 C673.3 129.8 666.7 130.3 660.0 130.8 C653.3 131.3 646.7 131.7 640.0 132.1 C633.3 132.5 627.1 133.1 620.0 133.3 C612.9 133.6 602.5 133.4 597.5 133.6 C592.5 133.8 592.2 133.9 590.0 134.3 C587.8 134.7 586.1 135.3 584.5 136.0 C582.9 136.7 581.5 137.6 580.3 138.5 C579.1 139.4 578.3 140.3 577.5 141.3 C576.7 142.3 576.0 143.2 575.3 144.7 C574.6 146.1 573.8 147.9 573.2 150.0 C572.6 152.1 572.1 154.6 571.6 157.1 C571.1 159.6 570.6 162.1 570.2 165.0 C569.8 167.9 569.5 170.7 569.1 174.4 C568.7 178.1 568.4 183.0 568.0 187.0 C567.6 191.0 567.4 194.5 566.8 198.6 C566.2 202.7 565.2 206.9 564.5 211.6 C563.8 216.3 563.1 222.4 562.4 226.7 C561.7 231.0 560.9 235.2 560.2 237.5 C559.5 239.8 558.8 240.3 558.1 240.7 C557.5 241.1 556.9 240.5 556.3 240.0 C555.7 239.5 555.1 238.6 554.5 237.5 C553.9 236.4 554.0 236.4 552.7 233.2 C551.4 230.0 549.1 222.2 546.9 218.3 C544.7 214.4 542.3 212.2 539.4 209.7 C536.5 207.2 532.9 204.8 529.6 203.5 C526.3 202.2 523.0 201.8 519.7 201.8 C516.4 201.8 512.3 202.6 509.8 203.5 C507.3 204.4 505.8 206.0 504.5 207.5 C503.2 209.0 502.2 211.7 501.8 212.5 C502.2 211.2 503.6 207.8 504.5 205.0 C505.4 202.2 506.4 199.2 507.5 196.0 C508.6 192.8 509.9 188.8 511.1 186.0 C512.4 183.2 513.6 181.1 515.0 179.0 C516.4 176.9 517.9 175.2 519.7 173.5 C521.5 171.8 523.9 170.1 526.0 168.7 C528.1 167.2 530.1 165.9 532.1 164.8 C534.1 163.7 536.1 163.2 538.0 162.3 C539.9 161.4 541.7 160.4 543.2 159.3 C544.7 158.2 545.9 157.0 547.0 155.7 C548.1 154.4 549.1 153.0 550.0 151.5 C550.9 150.0 551.7 148.4 552.5 146.5 C553.3 144.6 554.0 142.8 554.6 140.0 C555.2 137.2 555.7 133.0 556.3 129.5 C556.9 126.0 557.4 122.2 558.0 119.0 C558.6 115.8 559.1 113.3 559.7 110.5 C560.3 107.7 560.8 105.2 561.4 102.0 C562.0 98.8 562.7 94.2 563.2 91.0 C563.7 87.8 564.0 86.0 564.5 83.0 C565.0 80.0 565.7 75.8 566.3 72.8 C566.9 69.8 567.5 66.8 568.3 65.2 C569.0 63.7 570.0 63.5 570.8 63.5 C571.6 63.5 572.2 64.1 573.0 65.0 C573.8 65.9 574.5 67.2 575.4 68.9 C576.3 70.6 577.6 73.3 578.5 75.1 C579.4 76.9 580.2 78.4 581.0 79.8 C581.8 81.2 582.1 81.8 583.2 83.6 C584.3 85.4 586.1 88.2 587.8 90.5 C589.5 92.8 591.4 95.6 593.2 97.5 C595.0 99.4 596.8 100.8 598.6 102.1 C600.4 103.4 601.0 103.9 604.1 105.2 C607.2 106.5 612.4 108.6 617.0 109.8 C621.6 111.0 627.6 111.8 631.9 112.2 C636.2 112.6 639.1 112.5 643.0 112.2 C646.9 111.9 650.8 111.0 655.4 110.4 C660.0 109.9 665.8 108.9 670.9 108.9 C676.0 108.9 681.1 109.8 686.3 110.4 C691.4 111.1 696.2 112.1 701.8 112.8 C707.4 113.5 713.6 114.0 720.0 114.5 C726.4 115.0 733.8 115.5 740.0 116.0 C746.2 116.5 754.2 117.1 757.5 117.6 C760.8 118.1 759.2 118.6 759.6 118.8" fill="none" stroke="#4cc23c" stroke-width="2.3" stroke-linejoin="round" stroke-linecap="round"/>
<path d="M783.9 122.0 C783.4 122.3 783.6 123.0 781.1 123.6 C778.6 124.2 774.2 125.1 768.6 125.7 C763.0 126.3 755.9 126.5 747.8 127.1 C739.7 127.7 728.0 128.5 720.0 129.1 C712.0 129.7 707.5 130.0 700.0 130.5 C692.5 131.0 682.5 131.4 675.0 132.0 C667.5 132.6 661.7 133.2 655.0 134.0 C648.3 134.8 641.7 135.2 635.0 136.5 C628.3 137.8 620.2 140.2 615.0 141.5 C609.8 142.8 607.2 143.0 604.0 144.0 C600.8 145.0 598.2 146.3 596.0 147.5 C593.8 148.7 592.4 149.8 591.0 151.0 C589.6 152.2 588.8 152.8 587.7 155.0 C586.7 157.2 585.4 161.7 584.7 164.2 C584.0 166.7 584.2 167.6 583.7 170.0 C583.2 172.4 582.5 175.6 582.0 178.5 C581.5 181.4 580.9 184.4 580.4 187.3 C579.9 190.2 579.3 193.1 578.8 196.0 C578.3 198.9 577.7 201.7 577.2 204.6 C576.7 207.5 576.1 210.3 575.6 213.2 C575.1 216.1 574.5 219.3 574.0 221.9 C573.5 224.5 573.2 226.8 572.8 229.0 C572.4 231.2 572.0 233.2 571.6 235.0 C571.2 236.8 570.7 238.4 570.2 239.5 C569.7 240.6 569.1 241.6 568.5 241.5 C567.9 241.4 567.5 240.4 566.8 239.2 C566.0 237.9 565.0 235.8 564.0 234.0 C563.0 232.2 562.0 230.3 561.0 228.5 C560.0 226.7 558.9 224.8 557.8 223.0 C556.7 221.2 555.6 219.4 554.5 217.6 C553.4 215.8 552.3 213.8 551.2 212.0 C550.1 210.2 549.0 208.3 548.0 206.8 C547.0 205.3 545.9 204.1 545.0 203.0 C544.1 201.9 543.2 200.5 542.8 200.0 C543.2 199.1 544.0 196.6 545.0 194.8 C546.0 193.0 547.4 191.2 548.8 189.4 C550.2 187.6 552.2 185.7 553.5 184.0 C554.8 182.3 555.5 180.9 556.5 179.3 C557.5 177.8 558.6 176.5 559.6 174.7 C560.6 172.9 561.8 170.4 562.7 168.5 C563.6 166.6 564.3 165.0 565.0 163.1 C565.7 161.2 566.2 159.5 566.8 157.0 C567.4 154.5 567.8 151.2 568.5 148.0 C569.2 144.8 570.2 142.7 570.9 138.0 C571.6 133.3 572.2 124.3 572.8 120.0 C573.3 115.7 573.6 116.4 574.2 112.2 C574.8 108.0 575.7 99.0 576.3 95.0 C576.9 91.0 577.2 90.4 577.8 88.2 C578.4 86.0 579.2 83.4 580.0 82.0 C580.8 80.6 581.7 79.8 582.5 79.7 C583.3 79.6 584.2 80.6 585.0 81.5 C585.8 82.4 585.8 82.4 587.1 85.1 C588.4 87.8 591.1 94.4 593.0 97.8 C594.9 101.2 596.0 103.0 598.5 105.2 C601.0 107.4 604.1 109.0 607.8 110.7 C611.5 112.4 616.1 114.2 620.7 115.4 C625.3 116.6 631.6 117.2 635.6 117.6 C639.6 118.0 640.9 118.0 645.0 117.8 C649.1 117.6 655.8 116.7 660.0 116.2 C664.2 115.7 667.0 115.0 670.0 114.6 C673.0 114.2 674.7 113.9 678.0 113.9 C681.3 113.9 685.5 114.2 690.0 114.5 C694.5 114.8 700.0 115.5 705.0 116.0 C710.0 116.5 714.2 116.9 720.0 117.3 C725.8 117.7 733.0 118.2 740.0 118.6 C747.0 118.9 755.8 119.0 761.7 119.4 C767.6 119.8 771.9 120.4 775.6 120.8 C779.3 121.2 782.5 121.8 783.9 122.0" fill="none" stroke="#1f3c9e" stroke-width="2.3" stroke-linejoin="round" stroke-linecap="round"/>
<line x1="81.5" y1="37.6" x2="118.1" y2="37.6" stroke="#000000" stroke-width="2.2"/><text x="121.6" y="42.9" font-size="15.0" text-anchor="start" >4a</text><line x1="81.5" y1="57.6" x2="118.1" y2="57.6" stroke="#e3261d" stroke-width="2.2"/><text x="121.6" y="62.9" font-size="15.0" text-anchor="start" >4b</text><line x1="81.5" y1="77.8" x2="118.1" y2="77.8" stroke="#4cc23c" stroke-width="2.2"/><text x="121.6" y="83.1" font-size="15.0" text-anchor="start" >4c</text><line x1="81.5" y1="97.9" x2="118.1" y2="97.9" stroke="#1f3c9e" stroke-width="2.2"/><text x="121.6" y="103.2" font-size="15.0" text-anchor="start" >4e</text>
<line x1="731.2" y1="201.8" x2="768.0" y2="201.8" stroke="#000000" stroke-width="2.2"/><text x="771.6" y="207.1" font-size="15.0" text-anchor="start" >4a</text><line x1="731.2" y1="221.5" x2="768.0" y2="221.5" stroke="#e3261d" stroke-width="2.2"/><text x="771.6" y="226.8" font-size="15.0" text-anchor="start" >4b</text><line x1="731.2" y1="241.6" x2="768.0" y2="241.6" stroke="#4cc23c" stroke-width="2.2"/><text x="771.6" y="246.9" font-size="15.0" text-anchor="start" >4c</text><line x1="731.2" y1="261.5" x2="768.0" y2="261.5" stroke="#1f3c9e" stroke-width="2.2"/><text x="771.6" y="266.8" font-size="15.0" text-anchor="start" >4e</text>
</svg></body></html>
